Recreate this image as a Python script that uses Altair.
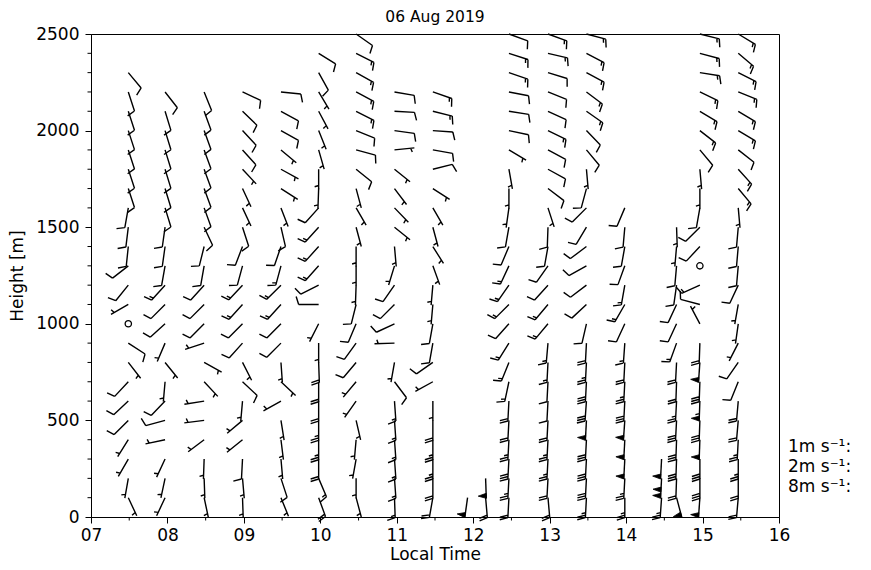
import altair as alt
import pandas as pd

# ---------------- data ----------------
heights = [100 * i for i in range(1, 26)]          # m, barbs start at 100 m
times = [7.488, 7.969, 8.480, 8.982, 9.485, 9.978, 10.468, 10.970, 11.472,
         11.926, 12.162, 12.467, 12.978, 13.481, 13.983, 14.464, 14.660,
         14.965, 15.467]

# direction the barb shaft points (deg clockwise from north), speed in m/s; from 100 m up
dir_0729 = [155, 190, 210, 212, 225, 227, 223, 142, 123, 0, 240, 219, 232, 186, 187, 190, 162, 162, 162, 162, 162, 162, 140]
spd_0729 = [1, 1, 1, 1, 2, 2, 2, 1, 2, 0, 1, 2, 2, 2, 2, 2, 2, 2, 2, 2, 2, 2, 2]
dir_0758 = [205, 192, 205, 258, 255, 224, 185, 141, 203, 228, 225, 222, 190, 188, 188, 163, 163, 163, 163, 163, 163, 142]
spd_0758 = [1, 1, 1, 1, 2, 2, 1, 1, 1, 2, 2, 3, 2, 2, 2, 2, 2, 2, 2, 2, 2, 2]
dir_0829 = [168, 178, 182, 233, 263, 261, 137, 119, 252, 225, 225, 222, 190, 194, 155, 160, 160, 160, 160, 160, 160, 158]
spd_0829 = [1, 1, 1, 1, 1, 1, 1, 1, 1, 2, 2, 2, 2, 2, 2, 2, 2, 2, 2, 2, 2, 2]
dir_0859 = [178, 175, 183, 231, 230, 185, 133, 153, 222, 225, 222, 223, 195, 201, 162, 155, 155, 137, 138, 137, 134, 115]
spd_0859 = [1, 1, 2, 1, 1, 1, 2, 1, 2, 2, 3, 3, 2, 2, 2, 1, 1, 1, 2, 2, 2, 2]
dir_0929 = [158, 162, 175, 173, 171, 241, 133, 176, 225, 225, 222, 225, 195, 199, 167, 159, 123, 119, 130, 119, 119, 96]
spd_0929 = [1, 2, 1, 1, 1, 1, 1, 1, 2, 2, 3, 3, 3, 2, 2, 1, 1, 1, 1, 2, 2, 2]
dir_0959 = [160, 157, 180, 180, 180, 180, 180, 178, 180, 207, 270, 243, 222, 222, 222, 222, 182, 180, 164, 158, 152, 149, 151, 122]
spd_0959 = [4, 3, 4, 5, 5, 4, 4, 4, 1, 1, 2, 2, 3, 3, 3, 2, 1, 1, 1, 1, 1, 1, 2, 2]
dir_1028 = [165, 180, 190, 185, 167, 215, 220, 220, 216, 203, 194, 182, 180, 180, 165, 150, 165, 129, 105, 112, 117, 118, 119, 117, 125]
spd_1028 = [1, 1, 1, 1, 1, 1, 1, 2, 2, 2, 2, 1, 1, 1, 1, 1, 1, 2, 2, 2, 3, 3, 3, 3, 2]
dir_1058 = [178, 176, 176, 176, 176, 176, 143, 190, 268, 245, 225, 215, 197, 175, 129, 136, 143, 129, 84, 98, 93, 100]
spd_1058 = [3, 3, 3, 3, 3, 3, 2, 1, 1, 2, 2, 2, 1, 1, 1, 1, 1, 1, 1, 2, 2, 2]
dir_1128 = [190, 180, 180, 180, 180, 180, 241, 235, 190, 190, 185, 185, 160, 148, 165, 150, 123, 76, 100, 94, 104, 109]
spd_1128 = [4, 4, 5, 5, 4, 1, 1, 2, 2, 2, 1, 1, 1, 1, 1, 1, 1, 2, 2, 2, 3, 3]
dir_1156 = [188]
spd_1156 = [8]
dir_1210 = [175, 178]
spd_1210 = [4, 8]
dir_1228 = [183, 183, 183, 183, 183, 183, 192, 202, 212, 222, 225, 215, 205, 203, 190, 188, 180, 170, 121, 102, 99, 101, 109, 108, 110]
spd_1228 = [4, 5, 6, 5, 4, 4, 3, 3, 3, 2, 3, 3, 3, 2, 2, 1, 1, 1, 1, 2, 2, 2, 3, 3, 2]
dir_1259 = [175, 183, 183, 183, 183, 183, 183, 183, 185, 220, 220, 222, 215, 190, 182, 162, 127, 119, 118, 116, 115, 112, 107, 103, 110]
spd_1259 = [4, 4, 5, 5, 4, 2, 2, 3, 3, 3, 3, 2, 2, 2, 2, 1, 2, 2, 2, 3, 2, 2, 2, 3, 3]
dir_1329 = [183, 183, 183, 183, 183, 184, 183, 183, 183, 193, 227, 233, 241, 233, 211, 225, 195, 175, 140, 136, 125, 127, 118, 118, 105]
spd_1329 = [5, 6, 6, 6, 8, 6, 6, 5, 4, 2, 2, 2, 2, 2, 2, 2, 2, 1, 2, 2, 3, 3, 3, 3, 3]
dir_1359 = [180, 183, 183, 183, 184, 183, 183, 183, 184, 205, 210, 190, 200, 190, 185, 203]
spd_1359 = [5, 5, 8, 8, 8, 6, 5, 4, 3, 2, 3, 3, 2, 2, 2, 2]
dir_1428 = [184, 183, 183]
spd_1428 = [5, 16, 8]
dir_1440 = [165, 182, 182, 182, 183, 183, 182, 183, 200, 205, 205, 188, 185, 185, 178]
spd_1440 = [8, 4, 6, 6, 6, 5, 4, 4, 3, 2, 2, 2, 2, 1, 1]
dir_1458 = [184, 180, 180, 182, 182, 182, 182, 184, 182, 332, 285, 246, 0, 223, 225, 190, 180, 175, 140, 128, 121, 116, 99, 105, 104]
spd_1458 = [8, 6, 6, 8, 6, 9, 6, 8, 4, 1, 2, 3, 0, 2, 2, 2, 1, 1, 2, 3, 3, 3, 3, 3, 3]
dir_1528 = [185, 180, 180, 183, 185, 185, 202, 215, 207, 188, 190, 205, 185, 185, 185, 175, 140, 138, 128, 121, 121, 112, 117, 130, 121]
spd_1528 = [4, 4, 5, 5, 4, 4, 2, 2, 1, 1, 1, 2, 2, 2, 2, 1, 3, 3, 2, 3, 3, 3, 3, 3, 3]

key_labels = ["1m s\u207b\u00b9:", "2m s\u207b\u00b9:", "8m s\u207b\u00b9:"]

x_major = list(range(7, 17))
x_minor = [7.5 + i for i in range(9)]
y_major = [0, 500, 1000, 1500, 2000, 2500]
y_minor = [h for h in range(100, 2500, 100) if h % 500 != 0]

dir_lists = [dir_0729, dir_0758, dir_0829, dir_0859, dir_0929, dir_0959, dir_1028,
             dir_1058, dir_1128, dir_1156, dir_1210, dir_1228, dir_1259, dir_1329,
             dir_1359, dir_1428, dir_1440, dir_1458, dir_1528]
spd_lists = [spd_0729, spd_0758, spd_0829, spd_0859, spd_0929, spd_0959, spd_1028,
             spd_1058, spd_1128, spd_1156, spd_1210, spd_1228, spd_1259, spd_1329,
             spd_1359, spd_1428, spd_1440, spd_1458, spd_1528]

# ---------------- barb glyphs (matplotlib-style, half=1, full=2, flag=8) ----------------
L = 20.0
SP = 0.125 * L
FH = 0.4 * L
FW = 0.25 * L


def f(v):
    return f"{v:.2f}".rstrip("0").rstrip(".")


def barb_paths(spd):
    nflags = int(spd // 8)
    rem = spd - 8 * nflags
    nbarbs = int(rem // 2)
    half = (rem - 2 * nbarbs) >= 1
    lines = [f"M0,0L0,{f(-L)}"]
    polys = []
    off = L
    for _ in range(nflags):
        if off != L:
            off += SP / 2
        polys.append(f"M0,{f(-off)}L{f(FH)},{f(-(off - FW / 2))}L0,{f(-(off - FW))}Z")
        off -= FW + SP
    for _ in range(nbarbs):
        lines.append(f"M0,{f(-off)}L{f(FH)},{f(-(off + FW / 2))}")
        off -= SP
    if half:
        if off == L:
            off -= 1.5 * SP
        lines.append(f"M0,{f(-off)}L{f(FH / 2)},{f(-(off + FW / 4))}")
    return "".join(lines), "".join(polys)


rows = []
for t, ds, ss in zip(times, dir_lists, spd_lists):
    for h, d, s in zip(heights, ds, ss):
        shaft, fl = barb_paths(s) if s > 0 else ("", "")
        rows.append({"t": t, "h": h, "dir": d, "spd": s, "shaft": shaft, "flagpath": fl})
df = pd.DataFrame(rows)

FONT = "DejaVu Sans"
FS = 17
xscale = alt.Scale(domain=[7, 16], nice=False, zero=False)
yscale = alt.Scale(domain=[0, 2500], nice=False, zero=False)
xaxis = alt.Axis(
    values=x_major, title="Local Time",
    labelExpr="(datum.value < 10 ? '0' : '') + datum.value",
    tickSize=6, labelPadding=4, titlePadding=3, labelFlush=False,
)
yaxis = alt.Axis(
    values=y_major, title="Height [m]", format="d",
    tickSize=6, labelPadding=6, titlePadding=9, labelFlush=False,
)

barbs = alt.Chart(df[df["spd"] > 0]).mark_point(
    filled=False, color="black", strokeWidth=1.4, opacity=1, size=4
).encode(
    x=alt.X("t:Q", scale=xscale, axis=xaxis),
    y=alt.Y("h:Q", scale=yscale, axis=yaxis),
    shape=alt.Shape("shaft:N", scale=None),
    angle=alt.Angle("dir:Q", scale=None),
)

flag_layer = alt.Chart(df[df["flagpath"] != ""]).mark_point(
    filled=True, color="black", stroke="black", strokeWidth=0.8, opacity=1, size=4
).encode(
    x="t:Q", y="h:Q",
    shape=alt.Shape("flagpath:N", scale=None),
    angle=alt.Angle("dir:Q", scale=None),
)

calm = alt.Chart(df[df["spd"] == 0]).mark_point(
    shape="circle", filled=False, color="black", strokeWidth=1.3, opacity=1, size=40
).encode(x="t:Q", y="h:Q")

# minor ticks (every 100 m and every half hour)
y_minor_ticks = alt.Chart(pd.DataFrame({"h": y_minor})).mark_rule(
    color="black", strokeWidth=1
).encode(y="h:Q", x=alt.value(-3.5), x2=alt.value(0))
x_minor_ticks = alt.Chart(pd.DataFrame({"t": x_minor})).mark_rule(
    color="black", strokeWidth=1
).encode(x="t:Q", y=alt.value(483), y2=alt.value(486.5))

key_layers = []
for lab, ypix in zip(key_labels, [413, 433, 453]):
    key_layers.append(
        alt.Chart(pd.DataFrame({"label": [lab]})).mark_text(
            align="left", baseline="middle", font=FONT, fontSize=FS, color="black"
        ).encode(x=alt.value(697), y=alt.value(ypix), text="label:N")
    )

chart = alt.layer(barbs, flag_layer, calm, y_minor_ticks, x_minor_ticks, *key_layers).properties(
    width=688, height=483,
    title=alt.TitleParams("06 Aug 2019", font=FONT, fontSize=15.5, fontWeight="normal",
                          color="black", offset=0),
    autosize=alt.AutoSizeParams(type="none"),
    padding={"left": 83, "top": 26, "right": 84, "bottom": 45},
).configure_view(
    stroke="black", strokeWidth=1
).configure_axis(
    grid=False, domainColor="black", tickColor="black", labelColor="black",
    titleColor="black", labelFont=FONT, titleFont=FONT, labelFontSize=FS,
    titleFontSize=FS, titleFontWeight="normal", domainWidth=1, tickWidth=1
)

chart.save("out.html", embed_options={"renderer": "svg", "actions": False})
